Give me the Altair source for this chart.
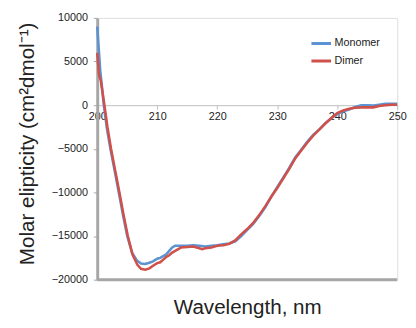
import altair as alt
import pandas as pd

mono_nm = [200, 200.5, 201.1, 201.6, 202.2, 202.9, 203.6, 204.3, 205.0, 205.8, 206.6, 207.3,
           208, 208.7, 209.3, 210, 210.5, 211, 211.5, 212, 212.5, 213, 214,
           215, 216, 217, 218, 219, 220, 221, 222, 223, 224, 225, 226, 227, 228, 229, 230,
           231, 232, 233, 234, 235, 236, 237, 238, 239, 240, 241, 242, 243, 244, 245, 246,
           247, 248, 249, 250]
mono_val = [9000, 4000, 0, -2600, -5000, -7500, -10000, -12600, -15000, -16900, -17800, -18150,
            -18200, -18050, -17900, -17600, -17500, -17300,
            -17100, -16700, -16300, -16100, -16100, -16100, -16050, -16100, -16200, -16100, -16050,
            -15950, -15850, -15600, -15000, -14300, -13600, -12700, -11700, -10500, -9400, -8300,
            -7200, -6000, -5100, -4200, -3400, -2800, -2100, -1500, -1000, -700, -500, -200, 0, 0,
            -50, 50, 150, 150, 150]

dimer_nm = [200, 200.3, 200.6, 201.2, 201.7, 202.3, 203.0, 203.7, 204.4, 205.1, 205.9, 206.7,
            207.3, 208, 208.7, 209.3, 210, 210.5, 211, 211.5, 212, 212.5, 213,
            213.5, 214, 215, 216, 217, 217.5, 218, 219, 220, 221, 222, 223, 224, 225, 226, 227,
            228, 229, 230, 231, 232, 233, 234, 235, 236, 237, 238, 239, 240, 241, 242, 243, 244,
            245, 246, 247, 248, 249, 250]
dimer_val = [6000, 3500, 2800, 0, -2500, -5000, -7500, -10000, -12600, -15000, -17150, -18300,
             -18750, -18850, -18700, -18400, -18100, -18000,
             -17700, -17400, -17200, -16900, -16700, -16500, -16300, -16250, -16200, -16400, -16500,
             -16400, -16300, -16100, -16050, -15900, -15500, -14800, -14200, -13500, -12600, -11600,
             -10500, -9500, -8400, -7300, -6100, -5200, -4300, -3500, -2800, -2100, -1500, -900,
             -600, -400, -300, -250, -250, -250, -100, 0, 50, 50]

series_names = ["Monomer", "Dimer"]
series_colors = ["#5B93D3", "#D0504A"]
x_ticks = [200, 210, 220, 230, 240, 250]
y_ticks = [-20000, -15000, -10000, -5000, 0, 5000, 10000]

rows = []
for n, v in zip(mono_nm, mono_val):
    rows.append({"nm": n, "val": v, "series": "Monomer", "o": 0})
for n, v in zip(dimer_nm, dimer_val):
    rows.append({"nm": n, "val": v, "series": "Dimer", "o": 1})
df = pd.DataFrame(rows)

W, H = 306, 267

xscale = alt.Scale(domain=[200, 250], nice=False, zero=False)
yscale = alt.Scale(domain=[-20000, 10000], nice=False, zero=False)

lines = alt.Chart(df).mark_line(strokeWidth=2.6).encode(
    x=alt.X("nm:Q", scale=xscale,
            axis=alt.Axis(values=x_ticks, offset=-178, title="Wavelength, nm", grid=False,
                          domainColor="#BFBFBF", domainWidth=1, tickColor="#BFBFBF",
                          tickSize=4, labelFontSize=11, labelColor="#222222", labelPadding=2,
                          titleFontSize=21, titleFontWeight="normal", titleColor="#222222",
                          titleBaseline="alphabetic", titleY=212, labelFlush=False)),
    y=alt.Y("val:Q", scale=yscale,
            axis=alt.Axis(values=y_ticks, title="Molar elipticity (cm²dmol⁻¹)", grid=False,
                          domainColor="#A6A6A6", domainWidth=3, tickColor="#A6A6A6",
                          tickSize=4, labelFontSize=11, labelColor="#222222", labelPadding=6,
                          titleFontSize=21, titleFontWeight="normal", titleColor="#222222",
                          titleBaseline="middle", titleX=-71, titleY=128, format="d")),
    color=alt.Color("series:N", scale=alt.Scale(domain=series_names, range=series_colors),
                    legend=alt.Legend(title=None, orient="none", legendX=217, legendY=19,
                                      symbolType="stroke", symbolSize=400, symbolStrokeWidth=3,
                                      labelFontSize=11, labelColor="#222222", labelOffset=2,
                                      clipHeight=14, rowPadding=4, padding=0)),
    order=alt.Order("o:Q"),
    detail="series:N",
)

bottom = alt.Chart(pd.DataFrame({"v": [-20000]})).mark_rule(color="#A6A6A6", strokeWidth=3).encode(
    y=alt.Y("v:Q", scale=yscale)
)

chart = alt.layer(bottom, lines).properties(
    width=W, height=H,
    padding={"left": 91, "top": 7, "right": 11, "bottom": 38},
    autosize=alt.AutoSizeParams(type="none"),
).configure_view(stroke="#404040", strokeWidth=1).configure(font="Liberation Sans")

chart.save("out.html", embed_options={"renderer": "svg", "actions": False})
